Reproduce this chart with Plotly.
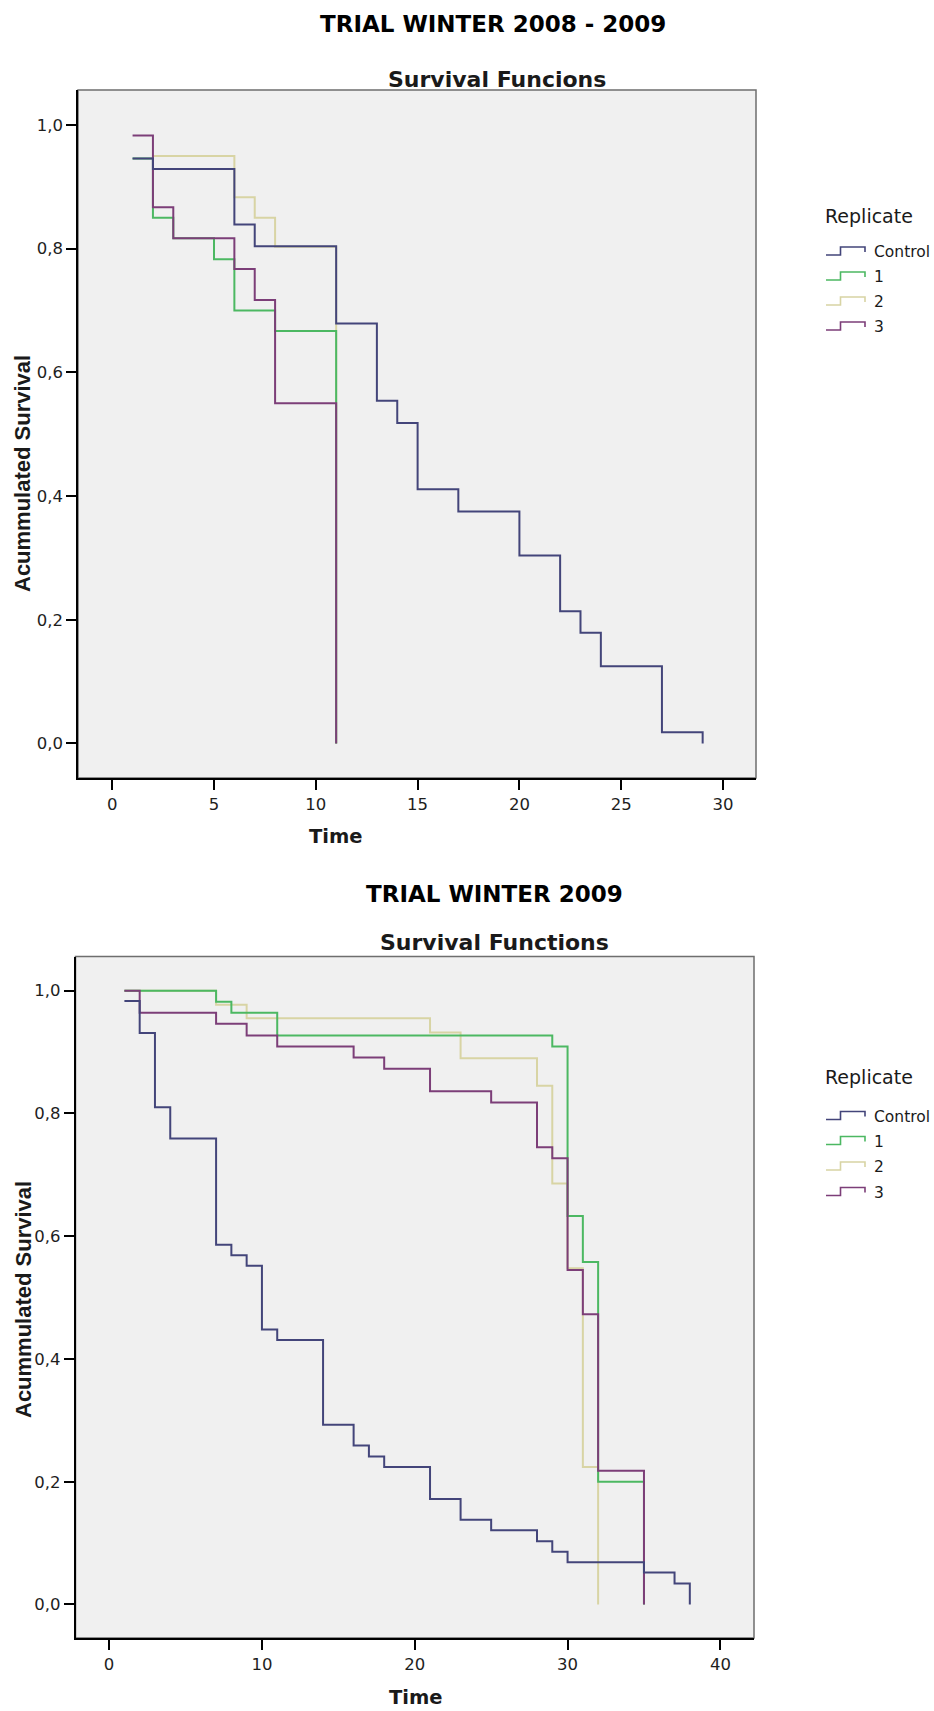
import plotly.graph_objects as go

# ---- Trial winter 2008-2009 : Kaplan-Meier survival per replicate ----
ctrl_time_a = [1, 2, 6, 7, 11, 13, 14, 15, 17, 20, 22, 23, 24, 27, 29]
ctrl_surv_a = [0.946, 0.929, 0.839, 0.804, 0.679, 0.554, 0.518, 0.411, 0.375,
               0.304, 0.214, 0.179, 0.125, 0.018, 0.0]
rep1_time_a = [1, 2, 3, 5, 6, 8, 11]
rep1_surv_a = [0.946, 0.850, 0.817, 0.783, 0.700, 0.667, 0.0]
rep2_time_a = [2, 6, 7, 8, 11]
rep2_surv_a = [0.950, 0.883, 0.850, 0.803, 0.0]
rep3_time_a = [1, 2, 3, 6, 7, 8, 11]
rep3_surv_a = [0.983, 0.867, 0.817, 0.767, 0.717, 0.550, 0.0]

# ---- Trial winter 2009 ----
ctrl_time_b = [1, 2, 3, 4, 7, 8, 9, 10, 11, 14, 16, 17, 18, 21, 23, 25, 28, 29,
               30, 35, 37, 38]
ctrl_surv_b = [0.983, 0.931, 0.810, 0.759, 0.586, 0.569, 0.552, 0.448, 0.431,
               0.293, 0.259, 0.241, 0.224, 0.172, 0.138, 0.121, 0.103, 0.086,
               0.069, 0.052, 0.034, 0.0]
rep1_time_b = [1, 7, 8, 11, 29, 30, 31, 32, 35]
rep1_surv_b = [1.0, 0.982, 0.964, 0.927, 0.909, 0.633, 0.558, 0.200, 0.0]
rep2_time_b = [1, 7, 9, 21, 23, 28, 29, 30, 31, 32]
rep2_surv_b = [1.0, 0.977, 0.955, 0.932, 0.890, 0.845, 0.686, 0.548, 0.224, 0.0]
rep3_time_b = [1, 2, 7, 9, 11, 16, 18, 21, 25, 28, 29, 30, 31, 32, 35]
rep3_surv_b = [1.0, 0.964, 0.946, 0.927, 0.909, 0.891, 0.873, 0.836, 0.818,
               0.745, 0.727, 0.545, 0.473, 0.218, 0.0]

group_names = ["Control", "1", "2", "3"]
group_colors = {"Control": "#43457a", "1": "#4cb862", "2": "#d8d4a4", "3": "#7c3e78"}

x_ticks_a = [0, 5, 10, 15, 20, 25, 30]
x_ticks_b = [0, 10, 20, 30, 40]
y_ticks = [0.0, 0.2, 0.4, 0.6, 0.8, 1.0]

W, H = 934, 1711


def px(x):
    return x / W


def py(y):
    return 1 - y / H


series_a = {"Control": (ctrl_time_a, ctrl_surv_a), "1": (rep1_time_a, rep1_surv_a),
            "2": (rep2_time_a, rep2_surv_a), "3": (rep3_time_a, rep3_surv_a)}
series_b = {"Control": (ctrl_time_b, ctrl_surv_b), "1": (rep1_time_b, rep1_surv_b),
            "2": (rep2_time_b, rep2_surv_b), "3": (rep3_time_b, rep3_surv_b)}

fig = go.Figure()

# draw order: 2, 1, 3, Control on top
draw_order = ["2", "1", "3", "Control"]
for xa, ya, series in (("x", "y", series_a), ("x2", "y2", series_b)):
    for g in draw_order:
        t, s = series[g]
        fig.add_trace(go.Scatter(
            x=t, y=s, mode="lines", line=dict(shape="hv", color=group_colors[g], width=2),
            name=g, showlegend=False, xaxis=xa, yaxis=ya, hoverinfo="skip"))

tick_font = dict(family="DejaVu Sans", size=16.5, color="#1e1e1e")
axis_common = dict(showgrid=False, zeroline=False, showline=True, linecolor="black",
                   linewidth=1.5, ticks="outside", ticklen=10, tickwidth=1.5,
                   tickcolor="black", tickfont=tick_font, mirror=False)

# panel geometry (pixels)
top_panel = dict(x0=78, x1=756, y0=90, y1=778)
bot_panel = dict(x0=75.5, x1=754, y0=956.5, y1=1638)

fig.update_layout(
    width=W, height=H, margin=dict(l=0, r=0, t=0, b=0),
    paper_bgcolor="white", plot_bgcolor="#f0f0f0",
    separators=",.",
    showlegend=False,
    xaxis=dict(domain=[px(top_panel["x0"]), px(top_panel["x1"])], range=[-1.68, 31.62],
               tickvals=x_ticks_a, anchor="y", **axis_common),
    yaxis=dict(domain=[py(top_panel["y1"]), py(top_panel["y0"])], range=[-0.0558, 1.0566],
               tickvals=y_ticks, tickformat=".1f", anchor="x", **axis_common),
    xaxis2=dict(domain=[px(bot_panel["x0"]), px(bot_panel["x1"])], range=[-2.2, 42.2],
                tickvals=x_ticks_b, anchor="y2", **axis_common),
    yaxis2=dict(domain=[py(bot_panel["y1"]), py(bot_panel["y0"])], range=[-0.0546, 1.0557],
                tickvals=y_ticks, tickformat=".1f", anchor="x2", **axis_common),
)

shapes = []
annotations = []

for panel, xr, yr in ((top_panel, "x domain", "y domain"), (bot_panel, "x2 domain", "y2 domain")):
    shapes.append(dict(type="rect", xref=xr, yref=yr, x0=0, x1=1, y0=0, y1=1,
                       line=dict(color="#6e6e6e", width=1.5), layer="below"))

title_font = dict(family="DejaVu Sans", size=23, color="black", weight="bold")
sub_font = dict(family="DejaVu Sans", size=22, color="#1a1a1a", weight="bold")
axis_title_font = dict(family="DejaVu Sans", size=19.5, color="#1a1a1a", weight="bold")
ytitle_font = dict(family="Liberation Sans", size=22, color="#1a1a1a", weight="bold")
legend_head_font = dict(family="DejaVu Sans", size=19, color="#1a1a1a")
legend_item_font = dict(family="DejaVu Sans", size=15.5, color="#1a1a1a")


def text(x, y, s, font, xanchor="center", angle=0):
    annotations.append(dict(x=px(x), y=py(y), xref="paper", yref="paper", text=s,
                            showarrow=False, font=font, xanchor=xanchor,
                            yanchor="middle", textangle=angle))


# headings
text(493, 24, "TRIAL WINTER 2008 - 2009", title_font)
text(497, 79, "Survival Funcions", sub_font)
text(494, 894, "TRIAL WINTER 2009", title_font)
text(494, 942, "Survival Functions", sub_font)

# axis titles
text(336, 836, "Time", axis_title_font)
text(416, 1697, "Time", axis_title_font)
text(23, 474, "Acummulated Survival", ytitle_font, angle=-90)
text(23, 1300, "Acummulated Survival", ytitle_font, angle=-90)


# legends with step-shaped glyphs
def legend(head_y, rows_y):
    text(823, head_y, "Replicate", legend_head_font, xanchor="left")
    for g, cy in zip(group_names, rows_y):
        pts = [(826, cy + 3), (840.5, cy + 3), (840.5, cy - 5), (865, cy - 5), (865, cy)]
        path = "M " + " L ".join(f"{px(a):.5f},{py(b):.5f}" for a, b in pts)
        shapes.append(dict(type="path", xref="paper", yref="paper", path=path,
                           line=dict(color=group_colors[g], width=1.6)))
        text(871.5, cy, g, legend_item_font, xanchor="left")


legend(216.5, [252, 277, 302, 327])
legend(1076.5, [1116.5, 1141.5, 1167, 1192.5])

fig.update_layout(shapes=shapes, annotations=annotations)
fig.write_html("out.html")
